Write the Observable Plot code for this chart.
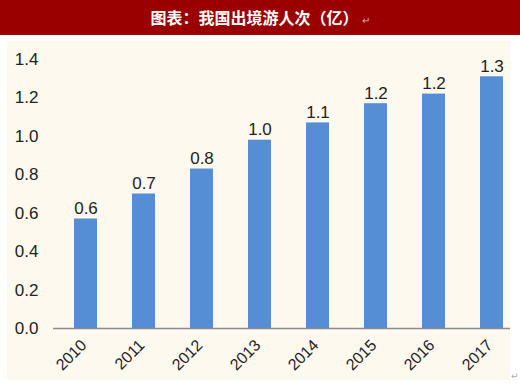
<!DOCTYPE html>
<html>
<head>
<meta charset="utf-8">
<script src="https://cdn.jsdelivr.net/npm/d3@7"></script>
<script src="https://cdn.jsdelivr.net/npm/@observablehq/plot@0.6"></script>
<style>
  html, body { margin: 0; padding: 0; background: #ffffff; width: 520px; height: 386px; overflow: hidden; position: relative; }
  #header { position: absolute; left: 0; top: 0; width: 520px; height: 35px; background: #9a0000; }
  #title { position: absolute; left: 0; top: 0; width: 520px; height: 35px; line-height: 35px; text-align: center;
           color: #ffffff; font-family: "Noto Sans CJK SC", sans-serif; font-weight: bold; font-size: 16px; }
  #title .ret { color: #d9b0b0; font-weight: normal; font-size: 10px; margin-left: 3px; }
  #panel { position: absolute; left: 7px; top: 41px; width: 503px; height: 339px; background: #fdf9ef; overflow: hidden; }
  #panel svg { overflow: hidden; }
  #ret2 { position: absolute; left: 511px; top: 371px; font-size: 9px; color: #aaaaaa; font-family: "DejaVu Sans", sans-serif; }
</style>
</head>
<body>
<div id="header"></div>
<div id="title">图表：我国出境游人次（亿）<span class="ret">↵</span></div>
<div id="panel"></div>
<div id="ret2">↵</div>
<script>
const years = ["2010", "2011", "2012", "2013", "2014", "2015", "2016", "2017"];
const values = [0.57, 0.70, 0.83, 0.98, 1.07, 1.17, 1.22, 1.31];
const yTicks = [0, 0.2, 0.4, 0.6, 0.8, 1.0, 1.2, 1.4];

const data = years.map((y, i) => ({year: y, value: values[i]}));
const fmt = d3.format(".1f");

const chart = Plot.plot({
  width: 503,
  height: 339,
  marginLeft: 46,
  marginRight: -14,
  marginTop: 18,
  marginBottom: 52,
  style: {background: "transparent", fontFamily: "'Liberation Sans', Arial, sans-serif", fontSize: "17px", color: "#222", overflow: "hidden"},
  x: {domain: years, paddingInner: 0.6, paddingOuter: 0.3, label: null},
  y: {domain: [0, 1.4], label: null},
  marks: [
    Plot.barY(data, {x: "year", y: "value", fill: "#558ed5"}),
    Plot.ruleY([0], {stroke: "#8c8c8c", strokeWidth: 1.5}),
    Plot.ruleX([0], {x: () => null, frameAnchor: "left", y1: 0, y2: 1.4, stroke: "#8c8c8c", strokeWidth: 1.5}),
    Plot.axisY({ticks: yTicks, tickFormat: fmt, tickSize: 0, tickPadding: 15, fontSize: 17, fill: "#222", label: null}),
    Plot.axisX({tickRotate: -45, tickSize: 0, tickPadding: 14, dx: -2, fontSize: 16, fill: "#222", label: null}),
    Plot.text(data, {x: "year", y: "value", text: d => fmt(d.value), lineAnchor: "bottom", dy: -5, fontSize: 17, fill: "#222"})
  ]
});
document.getElementById("panel").appendChild(chart);
</script>
</body>
</html>
